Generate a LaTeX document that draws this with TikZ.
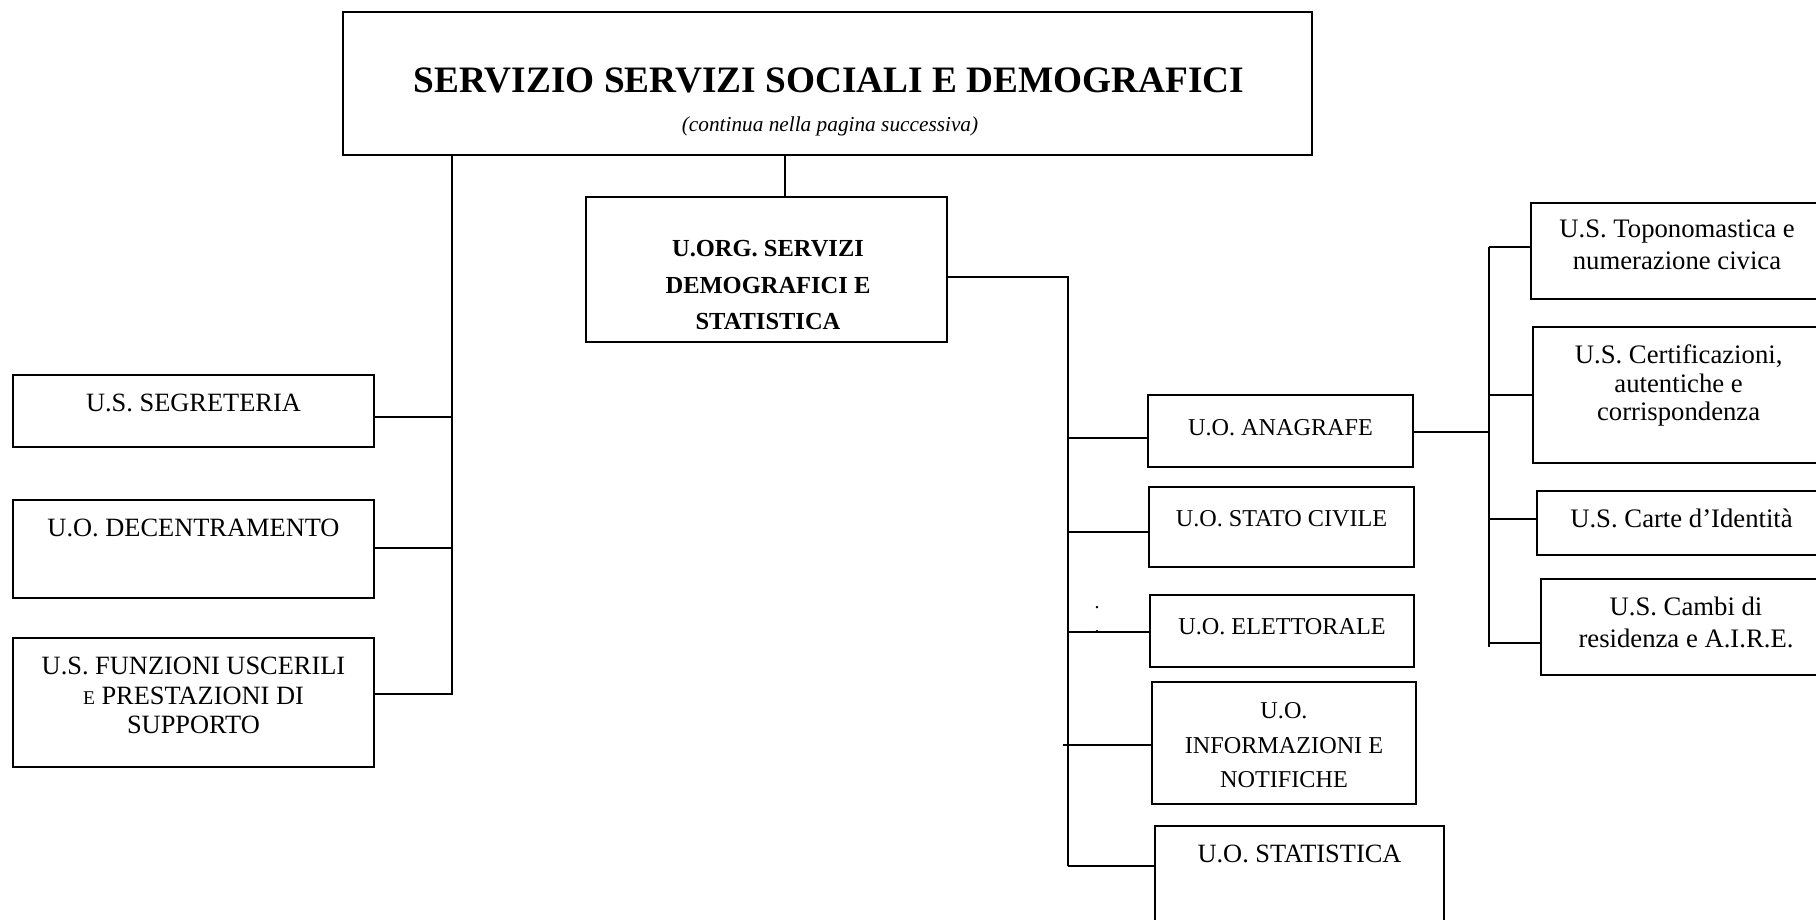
\documentclass[tikz,border=0pt]{standalone}
\usepackage{fontspec}
\setmainfont{Liberation Serif}
\tikzset{
  box/.style={draw, line width=2pt, inner sep=0pt, outer sep=0pt},
  conn/.style={line width=2pt},
  titlef/.style={font=\fontsize{37.3}{40}\selectfont\bfseries, inner sep=0pt, anchor=base},
  subf/.style={font=\fontsize{21.3}{24}\selectfont\itshape, inner sep=0pt, anchor=base},
  boldt/.style={font=\fontsize{24.5}{36.5}\selectfont\bfseries, align=center, inner sep=0pt},
  leftt/.style={font=\fontsize{26.4}{29.5}\selectfont, align=center, inner sep=0pt},
  midt/.style={font=\fontsize{24.2}{34.5}\selectfont, align=center, inner sep=0pt},
  rightt/.style={font=\fontsize{26.7}{32}\selectfont, align=center, inner sep=0pt},
  dotmark/.style={font=\fontsize{20}{22}\selectfont, inner sep=0pt, anchor=base},
}
\begin{document}
\begin{tikzpicture}[x=1pt,y=-1pt]
\useasboundingbox (0,0) rectangle (1816,920);
\clip (0,0) rectangle (1816,920);

% top box
\node[box, minimum width=969, minimum height=143] (top) at (827.5,83.5) {};
\node[titlef] (title) at (829,93) {SERVIZIO SERVIZI SOCIALI E DEMOGRAFICI};
\node[subf] (subtitle) at (830,132) {(continua nella pagina successiva)};

% left column
\node[box, minimum width=361, minimum height=72] (seg) at (193.5,411) {};
\node[leftt, anchor=base] (segT) at (193.5,411.5) {U.S. SEGRETERIA};
\node[box, minimum width=361, minimum height=98] (dec) at (193.5,549) {};
\node[leftt, anchor=base] (decT) at (193.5,536.5) {U.O. DECENTRAMENTO};
\node[box, minimum width=361, minimum height=129] (fun) at (193.5,702.5) {};
\node[leftt] (funT) at (193.5,695.5) {U.S. FUNZIONI USCERILI\\{\fontsize{19.5}{29.5}\selectfont E} PRESTAZIONI DI\\SUPPORTO};

% U.ORG
\node[box, minimum width=361, minimum height=145] (uorg) at (766.5,269.5) {};
\node[boldt] (uorgT) at (768,285.5) {U.ORG. SERVIZI\\DEMOGRAFICI E\\STATISTICA};

% middle column
\node[box, minimum width=265, minimum height=72] (ana) at (1280.5,431) {};
\node[midt, anchor=base] (anaT) at (1280.5,435) {U.O. ANAGRAFE};
\node[box, minimum width=265, minimum height=80] (stc) at (1281.5,527) {};
\node[midt, anchor=base] (stcT) at (1281.5,526.7) {U.O. STATO CIVILE};
\node[box, minimum width=264, minimum height=72] (ele) at (1282,631) {};
\node[midt, anchor=base] (eleT) at (1282,634) {U.O. ELETTORALE};
\node[box, minimum width=264, minimum height=122] (inf) at (1284,743) {};
\node[midt] (infT) at (1284,745.5) {U.O.\\INFORMAZIONI E\\NOTIFICHE};
\node[box, minimum width=289, minimum height=114] (sta) at (1299.5,883) {};
\node[leftt, anchor=base] (staT) at (1299.5,862) {U.O. STATISTICA};
\node[dotmark] (dot1) at (1097,608) {.};
\node[dotmark] (dot2) at (1097,632) {.};

% right column
\node[box, minimum width=292, minimum height=96] (topo) at (1677,251) {};
\node[rightt] (topoT) at (1677,245) {U.S. Toponomastica e\\numerazione civica};
\node[box, minimum width=291, minimum height=136] (cert) at (1678.5,395) {};
\node[rightt, font=\fontsize{26.7}{28.5}\selectfont] (certT) at (1678.6,385.5) {U.S. Certificazioni,\\autentiche e\\corrispondenza};
\node[box, minimum width=289, minimum height=64] (carte) at (1681.5,523) {};
\node[rightt, anchor=base] (carteT) at (1681.5,527) {U.S. Carte d’Identità};
\node[box, minimum width=290, minimum height=96] (cambi) at (1686,627) {};
\node[rightt] (cambiT) at (1686,622) {U.S. Cambi di\\residenza e A.I.R.E.};

% connectors: top -> U.ORG
\coordinate (tA) at (785,0);
\draw[conn] (top.south -| tA) -- (uorg.north -| tA);

% left trunk
\coordinate (trL) at (452,695);
\draw[conn] (top.south -| trL) -- (trL);
\coordinate (jL1) at (452,417);
\coordinate (jL2) at (452,548);
\coordinate (jL3) at (452,694);
\draw[conn] (seg.east |- jL1) -- (jL1);
\draw[conn] (dec.east |- jL2) -- (jL2);
\draw[conn] (fun.east |- jL3) -- (jL3);

% middle trunk
\coordinate (jM0) at (1068,277);
\coordinate (jMb) at (1068,866);
\draw[conn, line join=miter] (uorg.east |- jM0) -- (jM0) -- (jMb);
\coordinate (jM1) at (1068,438);
\coordinate (jM2) at (1068,532);
\coordinate (jM3) at (1068,632);
\coordinate (jM4) at (1063,745);
\coordinate (jM5) at (1068,866);
\draw[conn] (jM1) -- (ana.west |- jM1);
\draw[conn] (jM2) -- (stc.west |- jM2);
\draw[conn] (jM3) -- (ele.west |- jM3);
\draw[conn] (jM4) -- (inf.west |- jM4);
\draw[conn] (jM5) -- (sta.west |- jM5);

% right trunk
\coordinate (jR0) at (1489,432);
\coordinate (trRt) at (1489,247);
\coordinate (trRb) at (1489,647);
\draw[conn] (ana.east |- jR0) -- (jR0);
\draw[conn] (trRt) -- (trRb);
\coordinate (jR2) at (1489,395);
\coordinate (jR3) at (1489,519);
\coordinate (jR4) at (1489,643);
\draw[conn] (trRt) -- (topo.west |- trRt);
\draw[conn] (jR2) -- (cert.west |- jR2);
\draw[conn] (jR3) -- (carte.west |- jR3);
\draw[conn] (jR4) -- (cambi.west |- jR4);
\end{tikzpicture}
\end{document}
